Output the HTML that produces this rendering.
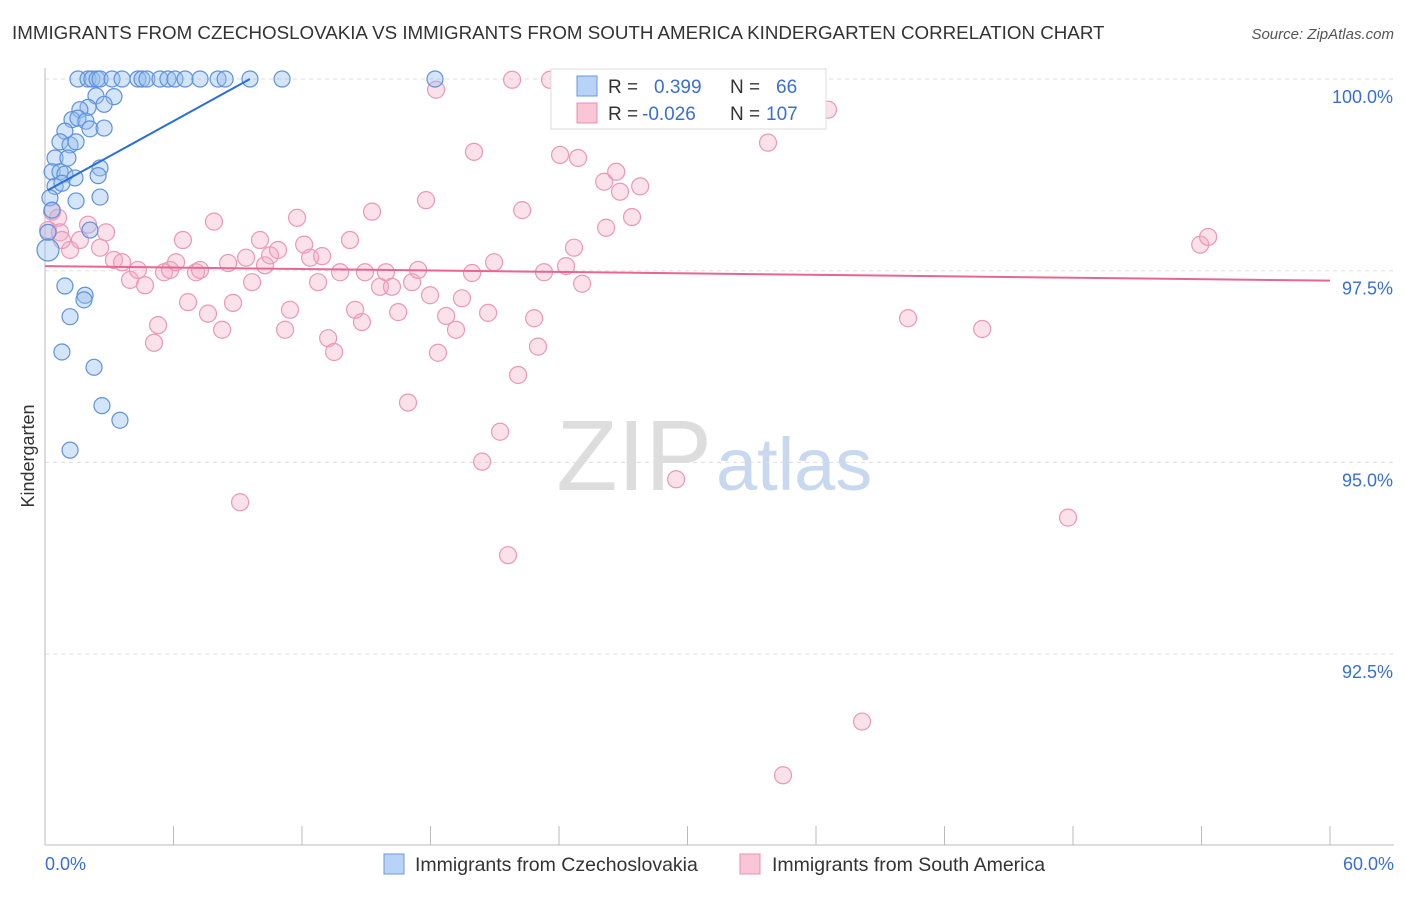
<!DOCTYPE html>
<html><head><meta charset="utf-8"><style>
body{margin:0;background:#fff;font-family:"Liberation Sans",sans-serif;}
svg text{font-family:"Liberation Sans",sans-serif;}
</style></head><body>
<svg id="chart" width="1406" height="892" xmlns="http://www.w3.org/2000/svg">
<text x="12" y="39" font-size="18.75" fill="#333">IMMIGRANTS FROM CZECHOSLOVAKIA VS IMMIGRANTS FROM SOUTH AMERICA KINDERGARTEN CORRELATION CHART</text>
<text x="1394" y="39" font-size="15" fill="#555" text-anchor="end" font-style="italic">Source: ZipAtlas.com</text>
<text x="712" y="490" font-size="100" fill="#ddd" text-anchor="end" font-family="Liberation Serif">ZIP</text>
<text x="716" y="490" font-size="74" fill="#c8d8ef">atlas</text>
<g id="grid"></g>
<g id="axes"></g>
<g id="pink"></g>
<g id="blue"></g>
<g id="trends"></g>
<text transform="translate(34,456) rotate(-90)" font-size="18" fill="#333" text-anchor="middle">Kindergarten</text>
<g>
<rect x="551" y="69" width="275" height="60" fill="#fff" stroke="#ddd"/>
<rect x="577" y="76" width="20" height="20" fill="#b8d3f5" stroke="#6a9ae0"/>
<text x="608" y="93" font-size="19" fill="#333">R =</text><text x="654" y="93" font-size="19" fill="#3a6fd0">0.399</text>
<text x="730" y="93" font-size="19" fill="#333">N =</text><text x="776" y="93" font-size="19" fill="#3a6fd0">66</text>
<rect x="577" y="103" width="20" height="20" fill="#f8c6d6" stroke="#ea8fb0"/>
<text x="608" y="120" font-size="19" fill="#333">R =</text><text x="642" y="120" font-size="19" fill="#3a6fd0">-0.026</text>
<text x="730" y="120" font-size="19" fill="#333">N =</text><text x="766" y="120" font-size="19" fill="#3a6fd0">107</text>
</g>
<g>
<rect x="384" y="854" width="20" height="20" fill="#b8d3f5" stroke="#6a9ae0"/>
<text x="415" y="871" font-size="19.5" fill="#333">Immigrants from Czechoslovakia</text>
<rect x="740" y="854" width="20" height="20" fill="#f8c6d6" stroke="#ea8fb0"/>
<text x="772" y="871" font-size="19.5" fill="#333">Immigrants from South America</text>
</g>
</svg>
<script>
const blueX=[1.54,2.01,2.19,2.43,2.57,3.13,3.6,4.34,4.53,4.76,5.37,5.74,6.07,6.54,7.24,8.08,8.41,9.57,11.07,18.21,2.38,3.22,2.01,2.76,1.63,1.26,1.54,1.91,0.93,2.1,2.76,0.7,1.17,1.45,0.47,1.07,2.57,0.33,0.7,0.93,1.4,2.48,0.47,0.79,0.23,1.45,2.57,0.33,0.14,2.1,0.14,0.93,1.87,1.82,1.17,0.79,2.29,2.66,3.5,1.17];
const blueY=[100,100,100,100,100,100,100,100,100,100,100,100,100,100,100,100,100,100,100,100,99.78,99.77,99.63,99.67,99.6,99.47,99.49,99.45,99.32,99.35,99.36,99.18,99.14,99.18,98.97,98.97,98.84,98.79,98.79,98.76,98.71,98.74,98.6,98.64,98.45,98.41,98.46,98.29,98.0,98.03,97.77,97.3,97.18,97.12,96.9,96.44,96.24,95.74,95.55,95.16];
const pinkX=[0.33,0.61,0.14,0.7,1.17,0.79,2.01,1.63,2.57,2.85,3.22,3.6,3.97,4.67,4.34,5.09,5.28,5.56,5.84,6.12,6.44,6.68,7.05,7.24,7.61,7.89,8.27,8.55,8.78,9.39,9.67,10.04,10.27,10.51,10.88,11.21,11.44,11.77,12.1,12.38,12.75,12.94,13.22,13.5,13.78,14.24,14.48,14.8,14.94,15.27,15.64,15.92,16.2,16.49,16.95,17.14,17.42,17.79,17.98,18.35,18.26,18.73,19.19,19.47,19.94,20.03,20.41,20.69,20.97,21.25,21.62,21.81,22.09,22.28,22.84,23.02,23.3,23.58,24.05,24.33,24.7,24.89,25.08,26.11,26.2,26.67,26.85,27.23,27.41,27.79,28.35,29.47,33.16,33.76,35.25,36.56,38.15,40.3,43.76,47.77,53.94,54.31,34.46,9.11];
const pinkY=[98.27,98.19,98.03,98.0,97.77,97.9,98.1,97.9,97.8,98.0,97.64,97.61,97.38,97.31,97.51,96.56,96.79,97.48,97.51,97.61,97.9,97.09,97.48,97.51,96.94,98.14,96.73,97.6,97.08,97.67,97.35,97.9,97.57,97.7,97.77,96.73,96.99,98.19,97.84,97.67,97.35,97.69,96.62,96.44,97.48,97.9,96.99,96.83,97.48,98.27,97.29,97.48,97.29,96.96,95.78,97.35,97.51,98.42,97.18,96.43,99.86,96.91,96.73,97.14,97.47,99.05,95.01,96.95,97.61,95.4,93.79,99.99,96.14,98.29,96.88,96.51,97.48,99.99,99.01,97.56,97.8,98.97,97.33,98.66,98.06,98.79,98.53,99.99,98.2,98.6,99.6,94.78,99.8,99.17,99.99,99.6,91.62,96.88,96.74,94.28,97.84,97.94,90.92,94.48];
const yTicks=[100,97.5,95,92.5];
const yTickLabels=["100.0%","97.5%","95.0%","92.5%"];
const xTicks=[0,6,12,18,24,30,36,42,48,54,60];
const blueTrend=[[0.14,98.55],[9.57,100]];
const pinkTrend=[[0,97.56],[60,97.37]];
const NS="http://www.w3.org/2000/svg";
const X=v=>45+v/60*1285;
const Y=v=>79+(100-v)*76.68;
function mk(tag,attrs,parent){const e=document.createElementNS(NS,tag);for(const k in attrs)e.setAttribute(k,attrs[k]);parent.appendChild(e);return e;}
const grid=document.getElementById('grid'),axes=document.getElementById('axes');
yTicks.forEach((t,i)=>{
 const l=mk('line',{x1:45,x2:1394,y1:Y(t),y2:Y(t),stroke:'#ddd','stroke-dasharray':'4 4'},grid);
 
 
 const tx=mk('text',{x:1393,y:Y(t)+24,'font-size':18,fill:'#3a6fd0','text-anchor':'end'},axes);
 tx.textContent=yTickLabels[i];
 
 
});
const ya=mk('line',{x1:45,x2:45,y1:68,y2:845,stroke:'#bbb'},axes);


const xa=mk('line',{x1:45,x2:1394,y1:845,y2:845,stroke:'#bbb'},axes);


xTicks.forEach(t=>{
 const l=mk('line',{x1:X(t),x2:X(t),y1:826,y2:845,stroke:'#bbb'},axes);
 
 
});
const xl0=mk('text',{x:45,y:870,'font-size':18,fill:'#3a6fd0'},axes);xl0.textContent='0.0%';


const xl1=mk('text',{x:1394,y:870,'font-size':18,fill:'#3a6fd0','text-anchor':'end'},axes);xl1.textContent='60.0%';


const pg=document.getElementById('pink');
pinkX.forEach((x,i)=>{
 const c=mk('circle',{cx:X(x),cy:Y(pinkY[i]),r:8.5,fill:'rgba(244,170,196,0.35)',stroke:'#eb98b6','stroke-width':1.2},pg);
 
 
});
const bg=document.getElementById('blue');
blueX.forEach((x,i)=>{
 const c=mk('circle',{cx:X(x),cy:Y(blueY[i]),r:(i==50?11:8),fill:'rgba(150,190,240,0.4)',stroke:'#5e92dc','stroke-width':1.2},bg);
 
 
});
const tg=document.getElementById('trends');
const bt=mk('line',{x1:X(blueTrend[0][0]),y1:Y(blueTrend[0][1]),x2:X(blueTrend[1][0]),y2:Y(blueTrend[1][1]),stroke:'#2a6fd6','stroke-width':2},tg);


const pt=mk('line',{x1:X(pinkTrend[0][0]),y1:Y(pinkTrend[0][1]),x2:X(pinkTrend[1][0]),y2:Y(pinkTrend[1][1]),stroke:'#e8668f','stroke-width':2},tg);


</script>
</body></html>
